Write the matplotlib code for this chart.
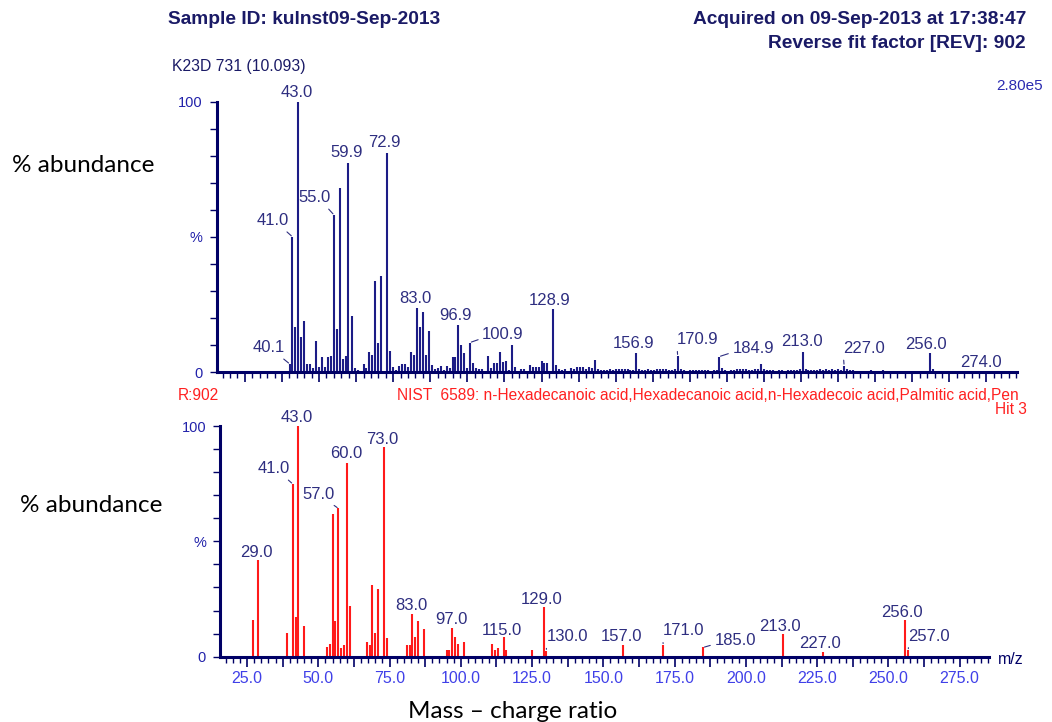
import matplotlib
matplotlib.use('Agg')
import matplotlib.pyplot as plt
from matplotlib.ticker import MultipleLocator, FuncFormatter

plt.rcParams['font.family'] = ['Liberation Sans', 'DejaVu Sans']

# ---- datos: espectro medido (arriba) ----
top_mz = [40.1, 41, 42, 43, 44, 45, 46, 47, 48, 49, 50, 51, 52, 53, 54, 55, 56, 57, 58, 59,
          59.9, 61, 62, 63, 65, 66, 67, 68, 69, 70, 71, 72.9, 74, 75, 76, 77, 78, 79, 80, 81,
          82, 83, 84, 85, 86, 87, 88, 89, 90, 91, 92, 93, 94, 95, 96, 96.9, 98, 99, 100, 100.9,
          102, 103, 104, 105, 107, 108, 109, 110, 111, 112, 113, 114, 115, 116, 118, 119, 121, 122, 123, 124,
          125, 126, 127, 128.9, 130, 131, 132, 133, 135, 136, 137, 138, 139, 140, 141, 142, 143, 144,
          145, 146, 147, 148, 149, 150, 151, 152, 153, 154, 155, 156, 156.9, 158, 159, 160, 161, 162,
          163, 164, 165, 166, 167, 168, 169, 170, 170.9, 172, 173, 174, 175, 176, 177, 178, 179, 180,
          181, 182, 183, 184, 184.9, 186, 187, 188, 189, 190, 191, 192, 193, 194, 195, 196, 197, 198,
          199, 200, 201, 202, 203, 204, 205, 206, 207, 208, 209, 210, 211, 212, 213, 214, 215, 216,
          217, 218, 219, 220, 221, 222, 223, 224, 225, 226, 227, 228, 229, 230, 231, 233, 234, 236,
          237, 239, 240, 241, 242, 243, 245, 250, 252, 253, 256, 257, 258, 274]
top_ab = [3.1, 50.1, 16.7, 100, 13.0, 19.0, 3.0, 3.0, 1.5, 11.6, 1.8, 5.5, 1.8, 5.5, 6.0, 58.2, 16.1, 68.2, 4.8, 6.0,
          77.5, 20.9, 1.5, 1.0, 3.0, 1.5, 7.4, 6.3, 33.7, 10.7, 35.6, 81.2, 7.9, 1.8, 1.0, 2.4, 3.0, 3.2, 1.8, 7.4,
          6.3, 23.9, 16.9, 22.4, 6.3, 15.4, 2.7, 1.1, 1.5, 2.5, 0.9, 2.3, 1.7, 5.5, 5.5, 17.5, 10.1, 7.3, 1.7, 11.0,
          3.3, 1.5, 1.2, 1.2, 6.0, 1.7, 3.3, 3.3, 7.6, 3.9, 4.3, 1.0, 10.1, 1.8, 1.2, 1.2, 2.7, 1.8, 1.8, 1.8,
          4.2, 3.3, 3.3, 23.3, 2.7, 1.2, 0.9, 1.2, 1.7, 1.2, 1.8, 1.8, 1.8, 1.2, 1.8, 1.5, 4.6, 1.2,
          0.9, 1.0, 0.7, 1.2, 1.0, 1.3, 1.2, 1.3, 1.1, 1.2, 0.8, 1.0, 7.3, 1.3, 1.0, 0.8, 1.1, 0.7,
          1.0, 1.2, 1.4, 1.1, 1.3, 1.0, 0.8, 1.2, 6.1, 1.4, 1.0, 0.6, 0.8, 1.0, 0.7, 0.9, 0.7, 0.8,
          1.0, 0.6, 0.9, 0.7, 5.8, 1.5, 0.8, 0.6, 0.9, 1.0, 1.2, 1.1, 1.3, 1.2, 1.0, 0.7, 1.1, 1.2,
          2.9, 1.2, 0.8, 0.7, 0.8, 0.6, 0.7, 0.8, 0.6, 0.9, 0.8, 1.0, 0.9, 1.2, 7.6, 1.3, 0.9, 0.8,
          1.0, 0.7, 1.1, 0.9, 1.2, 0.8, 1.3, 1.0, 1.1, 0.9, 2.5, 1.4, 0.8, 1.0, 0.6, 0.5, 0.6, 0.7,
          0.6, 0.6, 0.7, 0.5, 0.6, 0.5, 0.4, 0.5, 0.5, 0.6, 7.0, 1.2, 0.6, 0.5]
top_labels = [40.1, 41, 43, 55, 59.9, 72.9, 83, 96.9, 100.9, 128.9, 156.9, 170.9, 184.9, 213, 227, 256, 274]

# ---- datos: espectro de biblioteca NIST (abajo) ----
lib_mz = [27, 29, 39, 41, 42, 43, 45, 53, 54, 55, 56, 57, 58, 59, 60, 61, 67, 68, 69, 70, 71, 73, 74,
          81, 82, 83, 84, 85, 87, 95, 96, 97, 98, 99, 101, 111, 112, 113, 115, 116, 125, 129, 130,
          157, 171, 185, 213, 227, 256, 257]
lib_ab = [15.9, 41.9, 10.1, 74.9, 17.1, 100, 13.3, 4.3, 5.3, 61.9, 15.6, 64.3, 3.6, 5.1, 84.1, 22.0,
          6.5, 5.1, 31.1, 10.1, 29.2, 90.8, 8.0, 5.1, 5.1, 18.6, 8.4, 15.6, 11.9, 2.9, 2.9, 12.6, 8.4,
          5.3, 6.5, 5.3, 2.9, 3.6, 8.5, 2.9, 2.9, 21.5, 2.6, 5.1, 5.1, 4.0, 9.7, 2.2, 15.9, 2.9]
lib_labels = [29, 41, 43, 57, 60, 73, 83, 97, 115, 129, 130, 157, 171, 185, 213, 227, 256, 257]

# offsets de etiquetas (pixeles) y si llevan linea guia
top_off = {40.1: (-21, 16, 'L'), 41: (-20, 16, 'L'), 43: (-2, 9, None), 55: (-19, 17, 'L'),
           59.9: (-2, 10, None), 72.9: (-3, 10, None), 83: (-2, 9, None), 96.9: (-3, 9, None),
           100.9: (33, 8, 'R'), 128.9: (-3, 9, None), 156.9: (-3, 9, None), 170.9: (20, 16, 'R'),
           184.9: (34, 8, 'R'), 213: (-1, 10, None), 227: (20, 17, 'R'), 256: (-4, 9, None),
           274: (-3, 8, None)}
lib_off = {29: (-2, 8, None), 41: (-19, 15, 'L'), 43: (-2, 9, None), 57: (-20, 14, 'L'),
           60: (-1, 9, None), 73: (-2, 8, None), 83: (-1, 8, None), 97: (-1, 8, None),
           115: (-2, 7, None), 129: (-2, 8, None), 130: (21, 14, 'R'), 157: (-2, 8, None),
           171: (20, 14, 'R'), 185: (32, 7, 'R'), 213: (-3, 8, None), 227: (-3, 8, None),
           256: (-4, 8, None), 257: (21, 14, 'R')}

navy = '#000066'
lab_col = '#2e2e80'
tick_col = '#2222aa'
W, H = 1052., 722.

fig = plt.figure(figsize=(W / 100, H / 100), dpi=100)

def px_axes(l, t, r, b):
    return fig.add_axes([l / W, 1 - b / H, (r - l) / W, (b - t) / H])

def ftext(x, y, s, **kw):
    fig.text(x / W, 1 - y / H, s, **kw)

def estilo(ax, labels_x):
    ax.set_xlim(15.5, 285.3)
    ax.set_ylim(0, 100)
    for s in ['top', 'right']:
        ax.spines[s].set_visible(False)
    for s in ['left', 'bottom']:
        ax.spines[s].set_color(navy)
        ax.spines[s].set_linewidth(2.2)
    ax.set_yticks(range(0, 101, 10))
    ax.set_yticklabels(['0', '', '', '', '', '%', '', '', '', '', '100'])
    ax.tick_params(axis='y', direction='out', length=5, width=1, color=navy,
                   labelcolor=tick_col, labelsize=10.5, pad=5)
    ax.xaxis.set_major_locator(MultipleLocator(12.5))
    ax.xaxis.set_minor_locator(MultipleLocator(2.5))
    ax.tick_params(axis='x', which='major', direction='out', length=7, width=1.2, color=navy)
    ax.tick_params(axis='x', which='minor', direction='out', length=4, width=1, color=navy)
    if labels_x:
        ax.xaxis.set_major_formatter(FuncFormatter(
            lambda v, p: '%.1f' % v if abs(v % 25) < 1e-6 else ''))
        ax.tick_params(axis='x', labelcolor='#4040e8', labelsize=11.5, pad=3)
    else:
        ax.tick_params(axis='x', labelbottom=False)
    ax.set_facecolor('none')

def etiquetas(ax, mz, ab, labels, offs):
    for m in labels:
        h = ab[mz.index(m)]
        dx, dy, guia = offs[m]
        kw = {}
        if guia is not None:
            rp = (0.8, 0.05) if guia == 'L' else (0.0, 0.25)
            kw['arrowprops'] = dict(arrowstyle='-', color=lab_col, lw=0.8,
                                    shrinkA=1, shrinkB=1, relpos=rp)
        ax.annotate('%.1f' % m, xy=(m, h), xytext=(dx, dy), textcoords='offset pixels',
                    ha='center', va='center', fontsize=12, color=lab_col, **kw)

# espectro superior
ax1 = px_axes(216.7, 101.7, 1017, 372.3)
ax1.vlines(top_mz, 0, top_ab, color='#1c1c86', lw=1.5)
estilo(ax1, False)
etiquetas(ax1, top_mz, top_ab, top_labels, top_off)

# espectro inferior
ax2 = px_axes(220, 426, 989, 656.7)
ax2.vlines(lib_mz, 0, lib_ab, color='#ff1a1a', lw=1.5)
estilo(ax2, True)
etiquetas(ax2, lib_mz, lib_ab, lib_labels, lib_off)

# textos
hdr = dict(color='#1a1a66', fontweight='bold', fontsize=13.8, va='center')
ftext(168, 20, 'Sample ID: kulnst09-Sep-2013', ha='left', **hdr)
ftext(1026, 20, 'Acquired on 09-Sep-2013 at 17:38:47', ha='right', **hdr)
ftext(1026, 43, 'Reverse fit factor [REV]: 902', ha='right', **hdr)
ftext(172, 66, 'K23D 731 (10.093)', ha='left', va='center', color='#1a1a66', fontsize=11.3)
ftext(1043, 86, '2.80e5', ha='right', va='center', color='#2b2bb0', fontsize=11)
ftext(178, 395, 'R:902', ha='left', va='center', color='#ff2020', fontsize=11.2)
ftext(397, 395, 'NIST  6589: n-Hexadecanoic acid,Hexadecanoic acid,n-Hexadecoic acid,Palmitic acid,Pen',
      ha='left', va='center', color='#ff2020', fontsize=11.2)
ftext(1027, 409, 'Hit 3', ha='right', va='center', color='#ff2020', fontsize=11.2)
ftext(998, 659, 'm/z', ha='left', va='center', color=navy, fontsize=11.5)

big = dict(family=['Lato', 'DejaVu Sans'], fontsize=17.5, color='black', va='center')
ftext(12, 165, '% abundance', ha='left', **big)
ftext(20, 505, '% abundance', ha='left', **big)
ftext(513, 711, 'Mass \u2013 charge ratio', ha='center', **big)

fig.savefig('out.png', dpi=100)
